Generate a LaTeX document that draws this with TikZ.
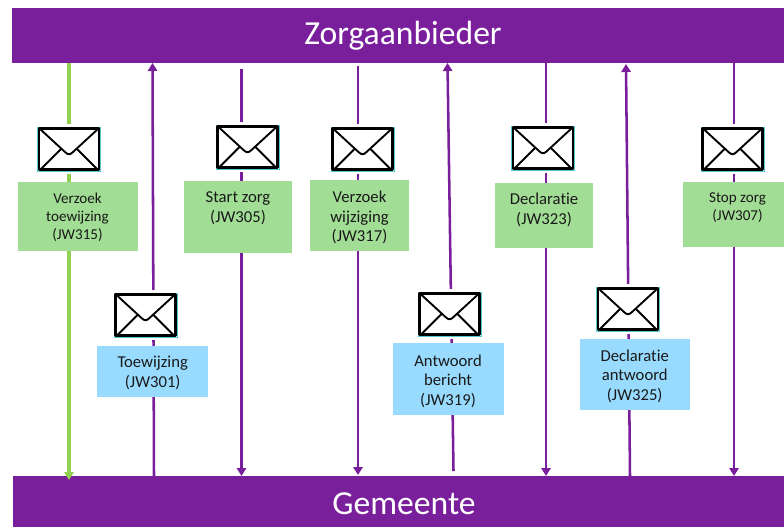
\documentclass[tikz,border=0pt]{standalone}
\usepackage{fontspec}
\setmainfont[Ligatures=NoCommon]{Carlito}
\usetikzlibrary{arrows.meta}
\definecolor{barpurple}{HTML}{7A1F9C}
\definecolor{flowgreen}{HTML}{92D050}
\definecolor{boxgreen}{HTML}{A2DD95}
\definecolor{boxblue}{HTML}{99DBFF}
\definecolor{envteal}{HTML}{55C8CC}
\tikzset{
  bar/.style={fill=barpurple,text=white,inner sep=0pt,anchor=center},
  bartext/.style={text=white,inner sep=0pt,font=\fontsize{25.2pt}{28pt}\selectfont},
  flow/.style={draw=barpurple,line width=1.9pt,-{Triangle[length=6pt,width=7pt]}},
  flowg/.style={flow,draw=flowgreen,line width=2.3pt},
  msgbox/.style={inner sep=0pt,anchor=north west},
  greenbox/.style={msgbox,fill=boxgreen},
  bluebox/.style={msgbox,fill=boxblue},
  lbl/.style={align=center,inner sep=0pt,text=black!90,font=\fontsize{12.5pt}{14.7pt}\selectfont},
  lblsmall/.style={align=center,inner sep=0pt,text=black!90,font=\fontsize{11.3pt}{13.5pt}\selectfont},
  envnode/.style={draw=envteal,line width=0.5pt,fill=white,inner sep=0pt,minimum width=47pt,minimum height=33pt,
    preaction={draw=white,line width=5pt}},
}
\newcommand{\mailicon}[3]{%
  \node[envnode] (#1) at (#2,#3) {};
  \begin{scope}[shift={(#2,#3)},line join=round]
    \draw[black,line width=2pt] (-30,-20.5) rectangle (30,20.5);
    \draw[black,line width=1.4pt] (-29,-20) -- (-4,3) .. controls (-1,6) and (1,6) .. (4,3) -- (29,-20);
    \draw[black,line width=1.4pt] (-28,20) -- (-8,0) (28,20) -- (8,0);
  \end{scope}}
\newcommand{\boxnode}[6]{\node[#1,minimum width=#5*0.75pt,minimum height=#6*0.75pt] (#2) at (#3,#4) {};}
\begin{document}
\begin{tikzpicture}[x=0.75pt,y=-0.75pt]
\useasboundingbox (0,0) rectangle (784,527);
\node[bar,minimum width=772*0.75pt,minimum height=55*0.75pt] (top) at (398,35.5) {};
\node[bar,minimum width=771*0.75pt,minimum height=51*0.75pt] (bot) at (398.5,501.5) {};
\node[bartext] (toptext) at (403,35.5) {Zorgaanbieder};
\node[bartext] (bottext) at (404,504) {Gemeente};
% connector anchors
\coordinate (a1) at (69,63);   \coordinate (b1) at (69,480);
\coordinate (a2) at (241.5,69); \coordinate (b2) at (241.5,476);
\coordinate (a3) at (358,66);  \coordinate (b3) at (358,475);
\coordinate (a4) at (546,63);  \coordinate (b4) at (546,476);
\coordinate (a5) at (734,63);  \coordinate (b5) at (734,476);
\coordinate (u1) at (154,476); \coordinate (v1) at (152.5,63);
\coordinate (u2) at (453.5,471); \coordinate (v2) at (447.5,63);
\coordinate (u3) at (630,476); \coordinate (v3) at (626,64);
% connectors
\draw[flowg] (a1) -- (b1);
\draw[flow] (a2) -- (b2);
\draw[flow] (a3) -- (b3);
\draw[flow] (a4) -- (b4);
\draw[flow] (a5) -- (b5);
\draw[flow] (u1) -- (v1);
\draw[flow] (u2) -- (v2);
\draw[flow] (u3) -- (v3);
% envelopes
\mailicon{e1}{69}{149}
\mailicon{e2}{247.5}{147}
\mailicon{e3}{362.5}{149}
\mailicon{e4}{543}{148}
\mailicon{e5}{732.5}{149}
\mailicon{e6}{145.5}{315}
\mailicon{e7}{449.5}{314}
\mailicon{e8}{628}{309}
% boxes
\boxnode{greenbox}{n1}{18}{182}{120}{69}
\boxnode{greenbox}{n2}{184}{181}{108}{72}
\boxnode{greenbox}{n3}{310}{180}{99}{71}
\boxnode{greenbox}{n4}{495}{183}{98}{65}
\boxnode{greenbox}{n5}{683}{182}{101}{65}
\boxnode{bluebox}{n6}{97}{346}{111}{51}
\boxnode{bluebox}{n7}{393}{343}{111}{72}
\boxnode{bluebox}{n8}{580}{339}{110}{71}
% labels
\node[lblsmall] (t1) at (77.5,217) {Verzoek\\toewijzing\\(JW315)};
\node[lbl] (t2) at (238,208) {Start zorg\\(JW305)};
\node[lbl] (t3) at (359.5,217.5) {Verzoek\\wijziging\\(JW317)};
\node[lbl] (t4) at (544,210) {Declaratie\\(JW323)};
\node[lblsmall] (t5) at (737.5,208) {Stop zorg\\(JW307)};
\node[lbl] (t6) at (152.7,373) {Toewijzing\\(JW301)};
\node[lbl] (t7) at (448,381) {Antwoord\\bericht\\(JW319)};
\node[lbl] (t8) at (634.7,376) {Declaratie\\antwoord\\(JW325)};
\end{tikzpicture}
\end{document}
